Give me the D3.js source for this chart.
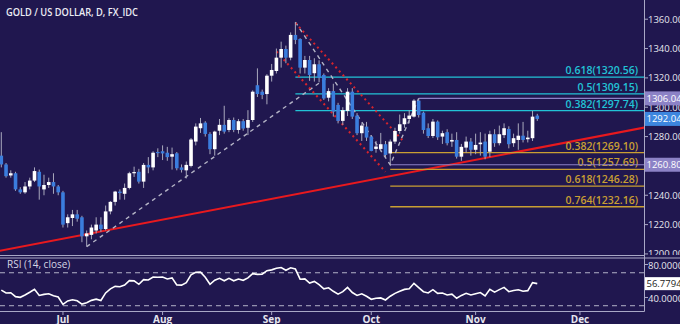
<!DOCTYPE html>
<html><head><meta charset="utf-8">
<script src="https://cdn.jsdelivr.net/npm/d3@7"></script>
<style>html,body{margin:0;padding:0;background:#20174f;overflow:hidden}svg{display:block}</style>
</head><body><svg id="c" width="680" height="324"></svg>
<script>
// ---------------- data ----------------
const title = "GOLD / US DOLLAR, D, FX_IDC";
const startDate = "2017-06-14";     // first candle (weekdays only, FX)
const slotCount = 136;              // trading-day slots shown on the x axis

const opens = [1267,1261,1253.5,1255,1244,1242,1246,1250,1256,1244,1247,1249,1246,1242,1221,1224.5,1227,1225,1212,1213,
1216,1220,1217,1229,1235.5,1242.5,1241,1245,1255,1256,1249.3,1260.7,1259,1269.5,1270,1269,1266.3,1268.6,1259,1257,
1260,1276.6,1285.7,1289.5,1281.8,1271.4,1284,1288,1284.5,1291.3,1284.5,1290.5,1286,1291.3,1315,1310.6,1309,1321.5,1324.7,1333.8,
1339.7,1333.8,1349.3,1346.5,1327,1332.2,1323.2,1329.3,1322,1306.5,1311,1301.6,1290.7,1297.5,1310.6,1294.3,1282.3,1286.8,1280,1271.6,
1271.6,1274.8,1268.5,1276.6,1283.8,1288.4,1292,1293.6,1304.5,1296.3,1285.7,1280.4,1290.2,1280,1283,1276.6,1277.7,1266.3,1272.5,1276.6,
1271,1274.8,1276.6,1269.7,1281.6,1275.5,1281,1285.2,1275.5,1277.7,1280.6,1278.2,1278.9,1294.3];
const highs = [1283,1262,1257,1256,1245.5,1249,1252,1259,1257.5,1254,1252,1255,1247,1243,1227,1230,1230,1226,1216,1220,
1225,1225,1233,1236,1243,1244,1248,1256,1259.5,1258,1262,1266,1270,1272,1274,1273,1272.5,1269.5,1261,1263,
1279,1289,1292.7,1290.5,1283,1284,1292,1301,1292.5,1293,1292,1292,1298,1311.5,1326.5,1312,1322.5,1329.5,1340,1344.7,
1342,1351,1358,1347,1335,1335,1333.4,1332,1323,1313,1316,1303,1300,1313,1313,1296,1289,1290,1281,1277,
1282.5,1277,1278,1286,1295,1296,1298,1305.5,1306.04,1297,1289,1292,1291,1284,1285,1282,1283,1275,1280,1279,
1282,1283,1282,1284,1285,1287.5,1289,1287,1282,1289,1290,1284,1297.5,1295.5];
const lows = [1259,1252,1252,1243,1241,1241,1244,1249,1237,1240,1245,1241,1240,1218,1218,1219,1222,1208,1205,1210,
1214,1215,1216,1227,1233,1237,1237,1244,1252.5,1248,1245,1255,1257,1266,1264,1263.5,1257.5,1257,1255.5,1251.5,
1259,1274,1282.5,1280,1268,1267,1281,1282,1283,1283,1282,1284,1281,1290,1307,1305.5,1302,1317.5,1323,1327,
1330,1332,1343,1323,1323,1318,1317.5,1317,1305,1304,1293.6,1289,1288,1294,1292,1281,1277,1277,1270,1269,
1270,1266,1260.8,1275,1282,1286,1289,1293,1293,1282,1279,1279,1277.7,1275,1274,1273,1265,1263.5,1269,1267,
1268,1267,1264.5,1266,1273,1274,1279,1272,1273,1271,1276,1276,1277,1290.7];
const closes = [1261,1253,1255,1244,1242,1246,1250,1256.5,1246,1247,1249,1246,1242,1220,1225,1227,1224,1212,1214,1218,
1220,1217,1229,1235.5,1242.5,1241.5,1245,1255,1255.8,1249.3,1260.7,1259,1269,1268.7,1268.5,1266,1268,1258.4,1257.3,1260.7,
1278,1286.8,1289,1281.8,1271.4,1283.4,1288,1283.4,1291.3,1284.5,1290.5,1285.5,1291.3,1310.6,1309,1308.4,1321.5,1325.4,1333.8,1339.7,
1333.8,1349.3,1345.9,1327,1332.2,1322,1329.3,1320.2,1306,1311,1297,1290.7,1298,1310.6,1293.6,1282.3,1287.5,1279.3,1270.2,1273.2,
1274.8,1267.5,1276.6,1283.8,1288.4,1292.5,1294.3,1304.5,1294.7,1284.5,1280.4,1290.2,1279.5,1282.3,1275.5,1277.7,1266.3,1273,1276.6,1271,
1274.3,1275.9,1266.3,1281.6,1275.5,1281.6,1285.7,1274.8,1278.9,1280.6,1277.7,1279.3,1293.6,1292.04];
const rsiValues = [49,45.5,45.8,41,40.2,43,46.3,50,42.5,43.8,44.5,42,40.5,31.7,35.8,37.2,36,32,33.7,36.5,
38,36.3,45.5,50.5,53.5,53,55,60.4,60.2,56,61.6,61.2,64.8,64.5,64.8,62.5,63.8,55.2,55,58,
67.5,70.5,70.8,64.5,56,61,63.2,60.3,63.2,60.2,62.4,60.8,63.8,68.9,68,68.3,72.5,73.5,75.5,76.3,
73,76,74.5,62.2,62.5,57.5,59.5,55.5,50.5,51.8,47.5,44,47,52.3,46,42.5,44.5,41.5,37.8,39,
39.5,37,41.5,45,47.5,49.8,50.5,57.2,52,47,45.5,49.5,45,45.5,43,44,39,42.5,45,43,
44.5,46,41.8,49.9,46.5,49.5,52.3,47,48.5,49.3,47.5,48.3,58,56.78];

const monthLabels = ["Jul","Aug","Sep","Oct","Nov","Dec"];
const priceTicks = [1200,1220,1240,1260,1280,1300,1320,1340,1360];
const rsiTicks = [80,40];
const rsiBands = [70,30];
const rsiLastLabel = "56.7794";

const fibUpperRatios = ["0.618","0.5","0.382"];
const fibUpperValues = [1320.56,1309.15,1297.74];
const fibUpperStart = 62;           // candle index where these start (Sep 8 high)
const fibLowerRatios = ["0.382","0.5","0.618","0.764"];
const fibLowerValues = [1269.10,1257.69,1246.28,1232.16];
const fibLowerStart = 82;           // Oct 6 low

const levelValues = [1306.04,1260.80];
const levelStarts = [88,82];
const tagValues = [1306.04,1292.04,1260.80];
const tagKinds = ["level","last","level"];

const trendIdx = [0,113], trendVals = [1202.4,1272.2];         // red support line
const chanUpIdx = [62,85], chanUpVals = [1357.5,1276];          // red dotted channel
const chanLoIdx = [58,81], chanLoVals = [1338,1256];
const riseIdx = [18,69], riseVals = [1205,1321];                // grey dashed
const swingIdx = [62,82,88], swingVals = [1358,1260.8,1306.04]; // grey dashed swing

// ---------------- layout ----------------
const W = 680, H = 324;
const plotR = 644, mainTop = 0, mainBot = 256, rsiTop = 257.5, rsiBot = 311;
const C = {bg:"#20174f", border:"#a9a8c6", up:"#ffffff", down:"#3b7ddd", wick:"#a9a9bd",
  text:"#e6e6ee", cyan:"#22c3d6", gold:"#c99f33", lav:"#8c82c6", red:"#e8191e", blueTag:"#3d86de"};

const svg = d3.select("#c");
svg.append("rect").attr("width",W).attr("height",H).attr("fill",C.bg);

// dates (weekdays)
const dates = [];
let d = new Date(startDate+"T00:00:00Z");
while (dates.length < slotCount) { const wd = d.getUTCDay(); if (wd!==0 && wd!==6) dates.push(new Date(d)); d = d3.utcDay.offset(d,1); }

const x = d3.scaleLinear().domain([0, 135.5]).range([1.3, plotR]);
const y = d3.scaleLinear().domain([1198.6, 1373.1]).range([mainBot, mainTop]);
const yr = d3.scaleLinear().domain([23.6, 88.5]).range([rsiBot, rsiTop]);

const defs = svg.append("defs");
defs.append("clipPath").attr("id","cm").append("rect").attr("x",0).attr("y",mainTop).attr("width",plotR).attr("height",mainBot-mainTop);
defs.append("clipPath").attr("id","cr").append("rect").attr("x",0).attr("y",rsiTop).attr("width",plotR).attr("height",rsiBot-rsiTop);
defs.append("clipPath").attr("id","ca").append("rect").attr("x",plotR).attr("y",0).attr("width",W-plotR).attr("height",255);

const main = svg.append("g").attr("clip-path","url(#cm)");
const line = d3.line().x(p=>x(p[0])).y(p=>y(p[1]));

// red trend line (extended over the whole panel)
const trend = d3.scaleLinear().domain(trendIdx).range(trendVals);
main.append("path").attr("d", line([[-1, trend(-1)], [136, trend(136)]]))
  .attr("stroke",C.red).attr("stroke-width",2).attr("fill","none");

// fib lines
fibUpperValues.forEach((v,k)=>{
  main.append("line").attr("x1",x(fibUpperStart)).attr("x2",plotR).attr("y1",y(v)).attr("y2",y(v))
    .attr("stroke",C.cyan).attr("stroke-width",1.3);
  main.append("text").attr("x",638).attr("y",y(v)-3).attr("text-anchor","end")
    .attr("fill",C.cyan).attr("font-family","Open Sans").attr("font-weight",600).attr("font-size",10.5)
    .text(fibUpperRatios[k]+"("+v.toFixed(2)+")");
});
fibLowerValues.forEach((v,k)=>{
  main.append("line").attr("x1",x(fibLowerStart)).attr("x2",plotR).attr("y1",y(v)).attr("y2",y(v))
    .attr("stroke",C.gold).attr("stroke-width",1.3);
  main.append("text").attr("x",638).attr("y",y(v)-3).attr("text-anchor","end")
    .attr("fill",C.gold).attr("font-family","Open Sans").attr("font-weight",600).attr("font-size",10.5)
    .text(fibLowerRatios[k]+"("+v.toFixed(2)+")");
});
levelValues.forEach((v,k)=>{
  main.append("line").attr("x1",x(levelStarts[k])).attr("x2",plotR).attr("y1",y(v)).attr("y2",y(v))
    .attr("stroke",C.lav).attr("stroke-width",1.2);
});

// dashed drawings
main.append("path").attr("d", line(riseIdx.map((i,k)=>[i,riseVals[k]])))
  .attr("stroke","#b4b4c6").attr("stroke-width",1.4).attr("stroke-dasharray","4,4").attr("fill","none");
main.append("path").attr("d", line(swingIdx.map((i,k)=>[i,swingVals[k]])))
  .attr("stroke","#b4b4c6").attr("stroke-width",1.4).attr("stroke-dasharray","4,4").attr("fill","none");
[[chanUpIdx,chanUpVals],[chanLoIdx,chanLoVals]].forEach(([ii,vv])=>{
  main.append("path").attr("d", line(ii.map((i,k)=>[i,vv[k]])))
    .attr("stroke","#d6242c").attr("stroke-width",2).attr("stroke-dasharray","2,3.4").attr("fill","none");
});

// candles
const idx = d3.range(closes.length);
const bw = 3.6;
const cg = main.append("g");
cg.selectAll("line.w").data(idx).join("line").attr("class","w")
  .attr("x1",i=>x(i)).attr("x2",i=>x(i)).attr("y1",i=>y(highs[i])).attr("y2",i=>y(lows[i]))
  .attr("stroke",C.wick).attr("stroke-width",1);
cg.selectAll("rect").data(idx).join("rect")
  .attr("x",i=>x(i)-bw/2).attr("width",bw)
  .attr("y",i=>y(Math.max(opens[i],closes[i])))
  .attr("height",i=>Math.max(1,Math.abs(y(opens[i])-y(closes[i]))))
  .attr("fill",i=>closes[i]>=opens[i]?C.up:C.down);

// RSI panel
const rg = svg.append("g").attr("clip-path","url(#cr)");
rsiBands.forEach(v=>{
  rg.append("line").attr("x1",0).attr("x2",plotR).attr("y1",yr(v)).attr("y2",yr(v))
    .attr("stroke","#b2b2c8").attr("stroke-width",1).attr("stroke-dasharray","5,4");
});
rg.append("path").datum(rsiValues).attr("d", d3.line().x((v,i)=>x(i)).y(v=>yr(v)))
  .attr("stroke","#ffffff").attr("stroke-width",1.6).attr("fill","none");
svg.append("text").attr("x",7).attr("y",268).attr("fill","#d6d6e4")
  .attr("font-family","Open Sans").attr("font-size",10).text("RSI (14, close)");

// borders
const bl = (x1,y1,x2,y2)=>svg.append("line").attr("x1",x1).attr("y1",y1).attr("x2",x2).attr("y2",y2)
  .attr("stroke",C.border).attr("stroke-width",1);
bl(0,255.5,plotR,255.5); bl(0,258,680,258); bl(0,311.5,plotR+0.5,311.5); bl(plotR+0.5,0,plotR+0.5,311.5);

// right price axis
const ax = svg.append("g").attr("clip-path","url(#ca)");
priceTicks.forEach(v=>{
  ax.append("line").attr("x1",plotR).attr("x2",plotR+4).attr("y1",y(v)).attr("y2",y(v)).attr("stroke",C.border);
  ax.append("text").attr("x",648).attr("y",y(v)).attr("dy","0.35em").attr("fill",C.text)
    .attr("font-family","Open Sans").attr("font-size",9.5).text(v.toFixed(2));
});
tagValues.forEach((v,k)=>{
  const g = svg.append("g");
  g.append("rect").attr("x",plotR+1).attr("y",y(v)-7).attr("width",W-plotR).attr("height",14)
    .attr("fill",tagKinds[k]==="last"?C.blueTag:C.lav);
  g.append("text").attr("x",646.5).attr("y",y(v)).attr("dy","0.35em").attr("fill","#ffffff")
    .attr("font-family","Open Sans").attr("font-size",9.5).text(v.toFixed(2));
});
// RSI axis
rsiTicks.forEach(v=>{
  svg.append("line").attr("x1",plotR).attr("x2",plotR+4).attr("y1",yr(v)).attr("y2",yr(v)).attr("stroke",C.border);
  svg.append("text").attr("x",648).attr("y",yr(v)+1).attr("dy","0.35em").attr("fill",C.text)
    .attr("font-family","Open Sans").attr("font-size",9.5).text(v.toFixed(4));
});
const lastR = rsiValues[rsiValues.length-1];
svg.append("rect").attr("x",plotR+1).attr("y",yr(lastR)-6.5).attr("width",W-plotR).attr("height",13).attr("fill","#ffffff");
svg.append("text").attr("x",646.5).attr("y",yr(lastR)).attr("dy","0.35em").attr("fill","#222")
  .attr("font-family","Open Sans").attr("font-size",9.5).text(rsiLastLabel);

// x axis (first trading day of each month)
const monthStarts = [];
dates.forEach((dt,i)=>{ if (i>0 && dt.getUTCMonth()!==dates[i-1].getUTCMonth()) monthStarts.push(i); });
monthStarts.forEach((i,k)=>{
  if (k>=monthLabels.length) return;
  svg.append("line").attr("x1",x(i)).attr("x2",x(i)).attr("y1",311.5).attr("y2",315).attr("stroke",C.border);
  svg.append("text").attr("x",x(i)).attr("y",323).attr("text-anchor","middle").attr("fill",C.text)
    .attr("font-family","Open Sans").attr("font-weight",700).attr("font-size",10).text(monthLabels[k]);
});

// title
svg.append("text").attr("x",6).attr("y",16).attr("fill","#ececf4")
  .attr("font-family","Open Sans").attr("font-weight",600).attr("font-size",10.5)
  .attr("textLength",132).attr("lengthAdjust","spacingAndGlyphs").text(title);
</script></body></html>
